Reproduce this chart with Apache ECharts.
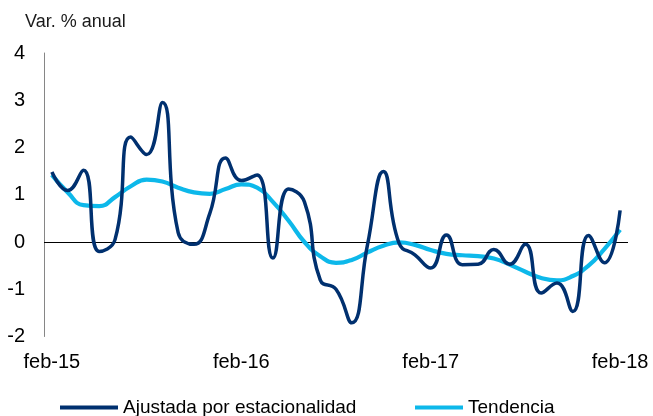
<!DOCTYPE html>
<html>
<head>
<meta charset="utf-8">
<script src="https://cdn.jsdelivr.net/npm/echarts@6/dist/echarts.min.js"></script>
<style>
html,body{margin:0;padding:0;background:#fff;}
#c{width:653px;height:416px;}
</style>
</head>
<body>
<div id="c"></div>
<script>
var categories = [
  "feb-15","mar-15","abr-15","may-15","jun-15","jul-15","ago-15","sep-15","oct-15","nov-15","dic-15","ene-16",
  "feb-16","mar-16","abr-16","may-16","jun-16","jul-16","ago-16","sep-16","oct-16","nov-16","dic-16","ene-17",
  "feb-17","mar-17","abr-17","may-17","jun-17","jul-17","ago-17","sep-17","oct-17","nov-17","dic-17","ene-18",
  "feb-18"
];
var ajustada = [
  1.48, 1.09, 1.52, -0.20, 0.05, 2.22, 1.85, 2.95, 0.20, -0.05, 0.60, 1.78,
  1.30, 1.42, -0.34, 1.12, 0.85, -0.80, -1.00, -1.71, -0.05, 1.49, -0.03, -0.27,
  -0.55, 0.15, -0.48, -0.47, -0.16, -0.47, -0.05, -1.08, -0.87, -1.47, 0.14, -0.44,
  0.67
];
var tendencia = [
  1.42, 1.05, 0.78, 0.76, 0.95, 1.18, 1.32, 1.28, 1.15, 1.05, 1.02, 1.12,
  1.22, 1.15, 0.85, 0.45, 0.00, -0.30, -0.44, -0.38, -0.22, -0.08, -0.01, -0.06,
  -0.17, -0.25, -0.28, -0.30, -0.35, -0.48, -0.63, -0.76, -0.81, -0.72, -0.50, -0.15,
  0.26
];
var seriesNames = ["Ajustada por estacionalidad", "Tendencia"];
var yTitle = "Var. % anual";

var chart = echarts.init(document.getElementById('c'), null, {renderer: 'canvas'});
var font = "'Liberation Sans', Arial, sans-serif";
chart.setOption({
  animation: false,
  backgroundColor: '#fff',
  title: {
    text: yTitle, left: 20, top: 8,
    textStyle: {fontFamily: font, fontSize: 18, fontWeight: 'normal', color: '#1a1a1a'}
  },
  grid: {left: 44, right: 25, top: 53, bottom: 79.5, containLabel: false},
  legend: [
    {
      data: [{name: seriesNames[0], icon: 'rect'}],
      left: 55, top: 393, itemWidth: 58, itemHeight: 4,
      textStyle: {fontFamily: font, fontSize: 19, color: '#000'}
    },
    {
      data: [{name: seriesNames[1], icon: 'rect'}],
      left: 410, top: 393, itemWidth: 48, itemHeight: 4,
      textStyle: {fontFamily: font, fontSize: 19, color: '#000'}
    }
  ],
  xAxis: {
    type: 'category', data: categories, boundaryGap: true,
    axisLine: {show: false}, axisTick: {show: false},
    axisLabel: {interval: 11, margin: 16, fontFamily: font, fontSize: 20, color: '#000'},
    splitLine: {show: false}
  },
  yAxis: {
    type: 'value', min: -2, max: 4, interval: 1,
    axisLine: {show: true, lineStyle: {color: '#868686', width: 1}},
    axisTick: {show: false},
    splitLine: {show: false},
    axisLabel: {margin: 19, fontFamily: font, fontSize: 20, color: '#000'}
  },
  series: [
    {
      name: seriesNames[1], type: 'line', data: tendencia, smooth: 0.5,
      showSymbol: false, symbol: 'none',
      lineStyle: {color: '#0DB8EA', width: 4.2},
      itemStyle: {color: '#0DB8EA'},
      z: 2,
      markLine: {
        silent: true, symbol: 'none', label: {show: false},
        lineStyle: {color: '#000', width: 1, type: 'solid'},
        data: [{yAxis: 0}], z: 1
      }
    },
    {
      name: seriesNames[0], type: 'line', data: ajustada, smooth: 0.5,
      showSymbol: false, symbol: 'none',
      lineStyle: {color: '#00306F', width: 3.5},
      itemStyle: {color: '#00306F'},
      z: 3
    }
  ]
});
</script>
</body>
</html>
